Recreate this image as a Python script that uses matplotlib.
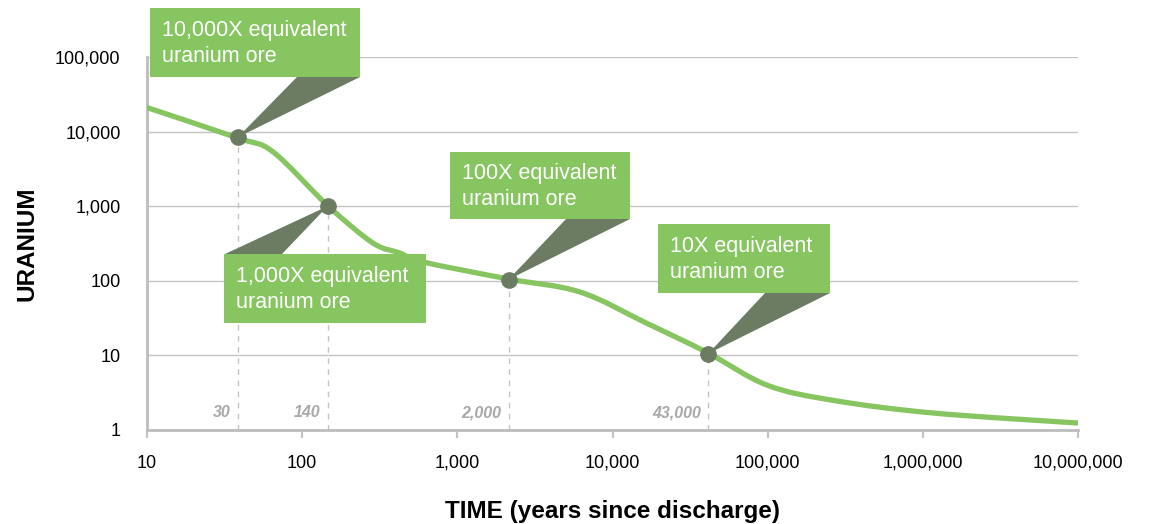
import numpy as np
import matplotlib
matplotlib.use('Agg')
import matplotlib.pyplot as plt
from matplotlib.path import Path
from matplotlib.patches import PathPatch, Rectangle, Polygon

plt.rcParams['font.family'] = ['Liberation Sans', 'DejaVu Sans']

# curve (years, uranium equivalent)
time_years = [10, 38.5, 65, 147, 286, 426, 600, 2120, 6170, 16600, 41200,
              98900, 263000, 1160000, 10000000]
uranium = [21000, 8200, 5330, 1006, 321, 236, 179, 106, 70.8, 27, 10.8,
           4.0, 2.5, 1.69, 1.24]

# milestone points
mark_x = [38.5, 146, 2140, 41500]
mark_y = [8400, 1000, 104, 10.6]
mark_labels = ['30', '140', '2,000', '43,000']
callouts = ['10,000X equivalent\nuranium ore', '1,000X equivalent\nuranium ore',
            '100X equivalent\nuranium ore', '10X equivalent\nuranium ore']

x_ticks = [10, 100, 1000, 10000, 100000, 1000000, 10000000]
x_ticklabels = ['10', '100', '1,000', '10,000', '100,000', '1,000,000', '10,000,000']
y_ticks = [1, 10, 100, 1000, 10000, 100000]
y_ticklabels = ['1', '10', '100', '1,000', '10,000', '100,000']

GREEN = '#86c55f'
DARK = '#6b7c62'
GRID = '#c4c4c4'

W, H = 1149, 524
fig = plt.figure(figsize=(W / 100, H / 100), dpi=100)
ax = fig.add_axes([147 / W, 1 - 430 / H, (1078 - 147) / W, (430 - 57) / H])
ax.set_xscale('log')
ax.set_yscale('log')
ax.set_xlim(10, 1e7)
ax.set_ylim(1, 1e5)

# smooth curve: catmull-rom style bezier through the read points, in log space
lx = np.log10(time_years)
ly = np.log10(uranium)
verts = [(lx[0], ly[0])]
codes = [Path.MOVETO]
n = len(lx)
for i in range(n - 1):
    p0 = np.array([lx[max(i - 1, 0)], ly[max(i - 1, 0)]])
    p1 = np.array([lx[i], ly[i]])
    p2 = np.array([lx[i + 1], ly[i + 1]])
    p3 = np.array([lx[min(i + 2, n - 1)], ly[min(i + 2, n - 1)]])
    c1 = p1 + (p2 - p0) / 6
    c2 = p2 - (p3 - p1) / 6
    verts += [tuple(c1), tuple(c2), tuple(p2)]
    codes += [Path.CURVE4] * 3
verts = [(10 ** a, 10 ** b) for a, b in verts]
ax.add_patch(PathPatch(Path(verts, codes), fill=False, edgecolor=GREEN, lw=3.8,
                       capstyle='round', zorder=3))

ax.set_xticks(x_ticks)
ax.set_xticklabels(x_ticklabels, fontsize=13)
ax.set_yticks(y_ticks)
ax.set_yticklabels(y_ticklabels, fontsize=13)
ax.minorticks_off()
ax.tick_params(axis='x', length=6, width=1.6, color=GRID, pad=12)
ax.tick_params(axis='y', length=0, pad=19)
ax.grid(axis='y', color=GRID, lw=1)
ax.set_axisbelow(True)
for s in ['top', 'right']:
    ax.spines[s].set_visible(False)
for s in ['left', 'bottom']:
    ax.spines[s].set_color('#bdbdbd')
    ax.spines[s].set_linewidth(2)

ax.set_ylabel('URANIUM', fontsize=17.5, fontweight='bold', labelpad=12)
ax.set_xlabel('TIME (years since discharge)', fontsize=17.5, fontweight='bold', labelpad=20)

# dashed drop lines and labels
for x, y, lab in zip(mark_x, mark_y, mark_labels):
    ax.plot([x, x], [1, y], color=GRID, lw=1, ls=(0, (4, 4)), zorder=2)
    ax.annotate(lab, (x, 1), xytext=(-5, 7), textcoords='offset points',
                ha='right', va='bottom', fontsize=11.5, fontstyle='italic',
                fontweight='bold', color='#a9a9a9')

ax.plot(mark_x, mark_y, 'o', color=DARK, ms=11, zorder=5)

# callout boxes (pixel positions, top-left origin) and pointer bases
boxes = [(150, 8, 360, 77), (224, 254, 426, 323), (450, 152, 630, 219), (658, 224, 830, 293)]
bases = [((297, 77), (360, 77)), ((225, 254), (282, 254)),
         ((566, 219), (630, 219)), ((765, 293), (830, 293))]


def fp(px, py):
    return (px / W, 1 - py / H)


fig.canvas.draw()
for (x0, y0, x1, y1), (b1, b2), txt, mx, my in zip(boxes, bases, callouts, mark_x, mark_y):
    apex = fig.transFigure.inverted().transform(ax.transData.transform((mx, my)))
    fig.patches.append(Polygon([fp(*b1), fp(*b2), apex], closed=True,
                               facecolor=DARK, edgecolor='none',
                               transform=fig.transFigure, zorder=4))
    fig.patches.append(Rectangle(fp(x0, y1), (x1 - x0) / W, (y1 - y0) / H,
                                 facecolor=GREEN, edgecolor='none',
                                 transform=fig.transFigure, zorder=5))
    fig.text((x0 + 12) / W, 1 - (y0 + y1 + 2) / 2 / H, txt, color='white',
             fontsize=15.5, ha='left', va='center', linespacing=1.32, zorder=6)

fig.savefig('out.png', dpi=100)
